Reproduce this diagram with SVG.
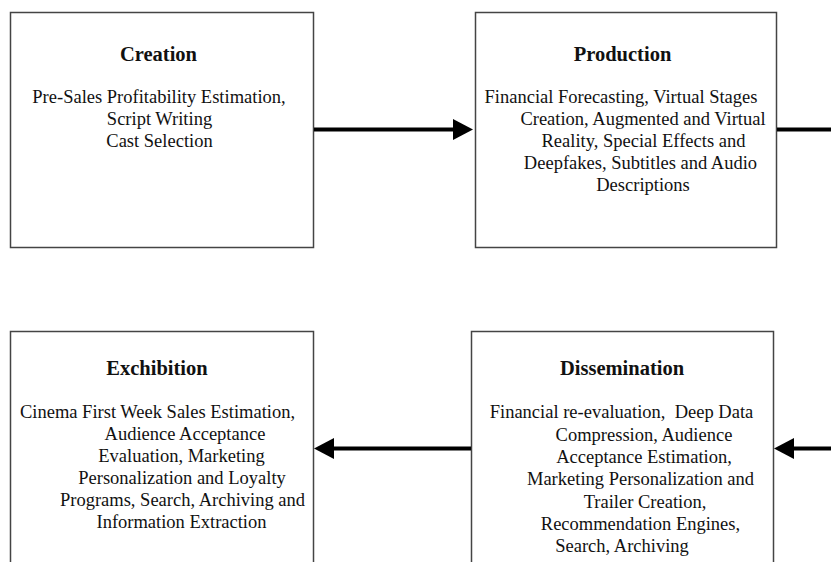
<svg xmlns="http://www.w3.org/2000/svg" width="831" height="562" viewBox="0 0 831 562">
  <style>
    .box { fill: #ffffff; stroke: #444444; stroke-width: 1.5; }
    .title { font-family: "Liberation Serif", "Times New Roman", serif; font-size: 20.5px; font-weight: bold; fill: #111111; text-anchor: middle; }
    .body { font-family: "Liberation Serif", "Times New Roman", serif; font-size: 18.5px; fill: #111111; text-anchor: middle; }
    .conn { fill: none; stroke: #000000; stroke-width: 4; }
  </style>
  <defs>
    <marker id="arrow" markerUnits="userSpaceOnUse" markerWidth="22" markerHeight="22" refX="2" refY="10.5" orient="auto">
      <path d="M0,0 L20,10.5 L0,21 z" fill="#000000"/>
    </marker>
  </defs>
  <rect width="831" height="562" fill="#ffffff"/>

  <g id="creation">
    <rect class="box" x="10.5" y="12.5" width="303" height="235"/>
    <text class="title" x="158.5" y="60.5">Creation</text>
    <text class="body" x="159" y="103">Pre-Sales Profitability Estimation,</text>
    <text class="body" x="159.5" y="125">Script Writing</text>
    <text class="body" x="159.5" y="147">Cast Selection</text>
  </g>

  <g id="production">
    <rect class="box" x="475.5" y="12.5" width="301" height="235"/>
    <text class="title" x="622.5" y="60.5">Production</text>
    <text class="body" x="621" y="102.5">Financial Forecasting, Virtual Stages</text>
    <text class="body" x="643" y="124.5">Creation, Augmented and Virtual</text>
    <text class="body" x="643.5" y="146.5">Reality, Special Effects and</text>
    <text class="body" x="640.5" y="168.5">Deepfakes, Subtitles and Audio</text>
    <text class="body" x="643" y="190.5">Descriptions</text>
  </g>

  <g id="exchibition">
    <rect class="box" x="10.5" y="331.5" width="303" height="240"/>
    <text class="title" x="157" y="375">Exchibition</text>
    <text class="body" x="157.5" y="418">Cinema First Week Sales Estimation,</text>
    <text class="body" x="185" y="440">Audience Acceptance</text>
    <text class="body" x="181.5" y="462">Evaluation, Marketing</text>
    <text class="body" x="182" y="484">Personalization and Loyalty</text>
    <text class="body" x="182.5" y="506">Programs, Search, Archiving and</text>
    <text class="body" x="181.5" y="528">Information Extraction</text>
  </g>

  <g id="dissemination">
    <rect class="box" x="471.5" y="331.5" width="302" height="240"/>
    <text class="title" x="622" y="375">Dissemination</text>
    <text class="body" x="621.5" y="418" xml:space="preserve">Financial re-evaluation,  Deep Data</text>
    <text class="body" x="644" y="440.5">Compression, Audience</text>
    <text class="body" x="644" y="463">Acceptance Estimation,</text>
    <text class="body" x="640.5" y="485">Marketing Personalization and</text>
    <text class="body" x="645" y="507.5">Trailer Creation,</text>
    <text class="body" x="640.5" y="530">Recommendation Engines,</text>
    <text class="body" x="622" y="552">Search, Archiving</text>
  </g>

  <g id="connectors">
    <line class="conn" x1="314" y1="129.5" x2="455" y2="129.5" marker-end="url(#arrow)"/>
    <line class="conn" x1="777" y1="129.5" x2="833" y2="129.5"/>
    <line class="conn" x1="833" y1="448.5" x2="792" y2="448.5" marker-end="url(#arrow)"/>
    <line class="conn" x1="471" y1="448.5" x2="332" y2="448.5" marker-end="url(#arrow)"/>
  </g>
</svg>
